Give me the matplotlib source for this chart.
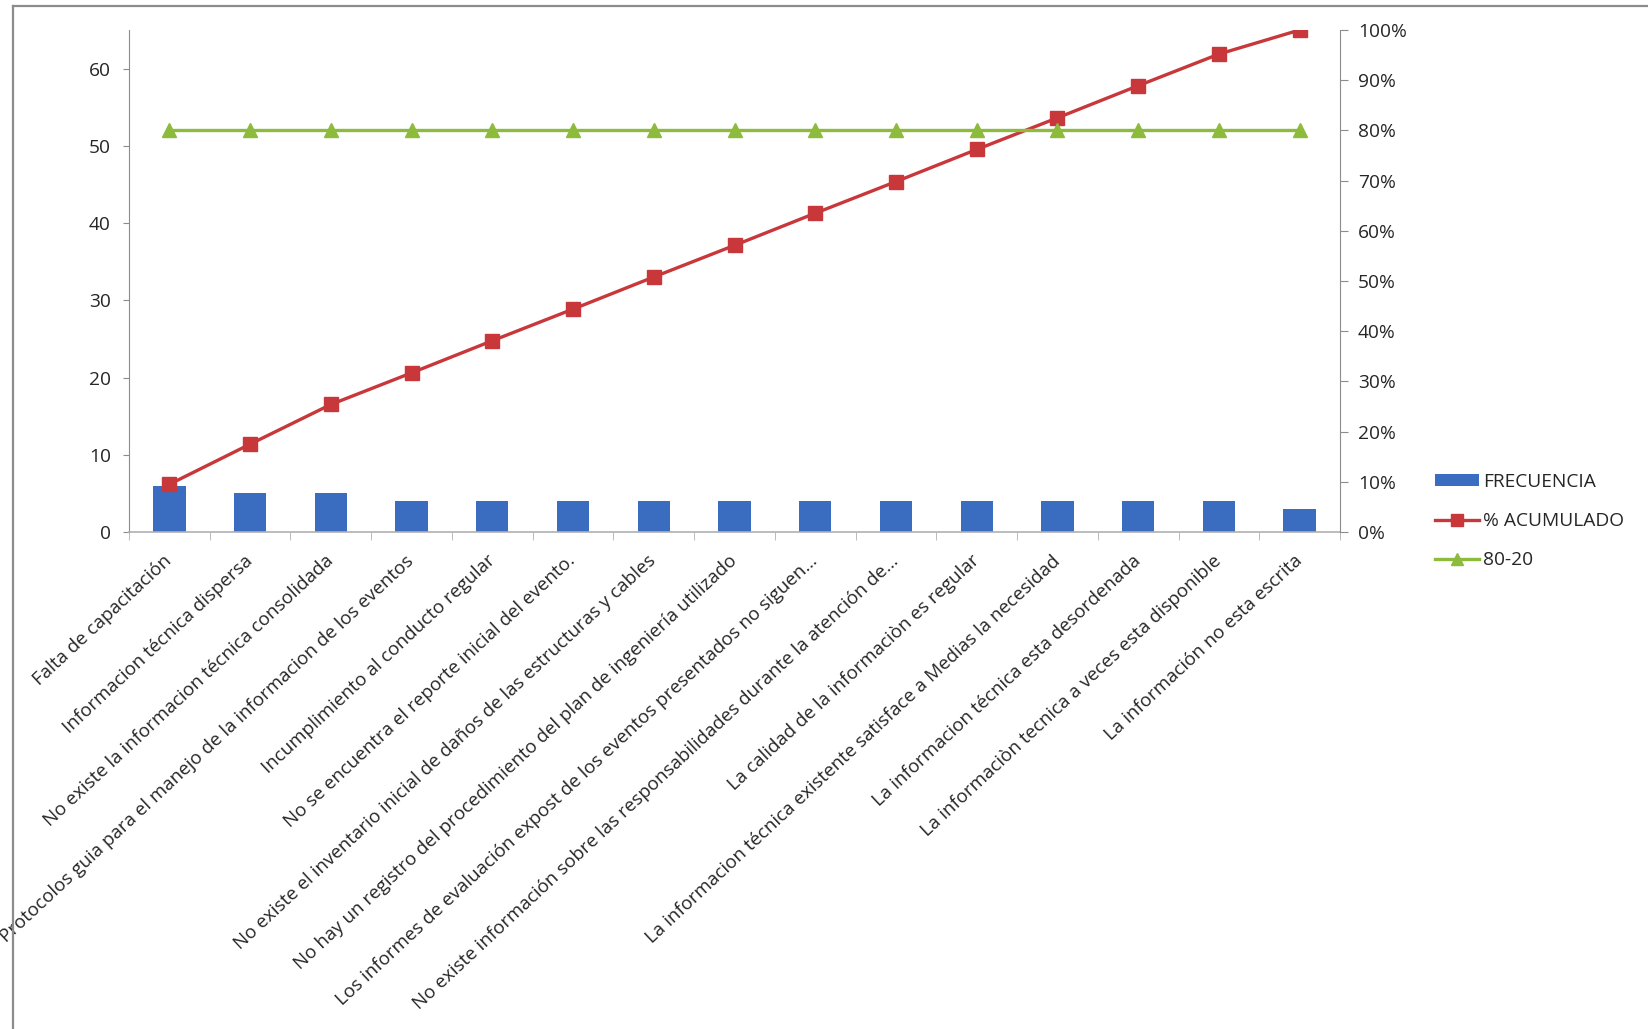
import numpy as np
import matplotlib
matplotlib.use("Agg")
import matplotlib.pyplot as plt
from matplotlib.lines import Line2D
from matplotlib.patches import Patch
from matplotlib.ticker import FixedLocator, PercentFormatter

plt.rcParams["font.family"] = ["Open Sans", "DejaVu Sans"]

causas = [
    "Falta de capacitación",
    "Informacion técnica dispersa",
    "No existe la informacion técnica consolidada",
    "Protocolos guia para el manejo de la informacion de los eventos",
    "Incumplimiento al conducto regular",
    "No se encuentra el reporte inicial del evento.",
    "No existe el inventario inicial de daños de las estructuras y cables",
    "No hay un registro del procedimiento del plan de ingeniería utilizado",
    "Los informes de evaluación expost de los eventos presentados no siguen…",
    "No existe información sobre las responsabilidades durante la atención de…",
    "La calidad de la informaciòn es regular",
    "La informacion técnica existente satisface a Medias la necesidad",
    "La informacion técnica esta desordenada",
    "La informaciòn tecnica a veces esta disponible",
    "La información no esta escrita",
]
frecuencia = [6, 5, 5, 4, 4, 4, 4, 4, 4, 4, 4, 4, 4, 4, 3]
acumulado = [0.095, 0.175, 0.254, 0.317, 0.381, 0.444, 0.508, 0.571,
             0.635, 0.698, 0.762, 0.825, 0.889, 0.952, 1.000]
linea_80_20 = [0.80] * 15

AZUL = "#3A6DBF"
ROJO = "#C8373A"
VERDE = "#8DBB3C"
GRIS = "#8C8C8C"
TEXTO = "#262626"
FS = 13.8
FS_CAT = 13.5

fig = plt.figure(figsize=(16.48, 10.29), dpi=100)
ax = fig.add_axes([129 / 1648, 1 - 532 / 1029, (1340 - 129) / 1648, (532 - 30) / 1029])
x = np.arange(len(causas))

ax.bar(x, frecuencia, width=0.4, color=AZUL, zorder=2)
ax.set_xlim(-0.5, len(causas) - 0.5)
ax.set_ylim(0, 65)
ax.set_yticks(np.arange(0, 61, 10))
ax.tick_params(axis="y", labelsize=FS, colors=GRIS, labelcolor=TEXTO,
               length=4, pad=9)

# etiquetas de categoría giradas, marcas entre categorías
ax.set_xticks(x)
ax.set_xticklabels(causas, rotation=43, ha="right", va="center",
                   rotation_mode="anchor", fontsize=FS_CAT, color=TEXTO)
ax.tick_params(axis="x", which="major", length=0, pad=19)
ax.xaxis.set_minor_locator(FixedLocator(np.arange(-0.5, len(causas), 1.0)))
ax.tick_params(axis="x", which="minor", length=6, color="#B0B0B0")

for s in ["top", "right"]:
    ax.spines[s].set_visible(False)
ax.spines["left"].set_color(GRIS)
ax.spines["bottom"].set_color("#B0B0B0")
ax.spines["bottom"].set_linewidth(1.2)
ax.patch.set_alpha(0)

ax2 = ax.twinx()
ax2.plot(x, acumulado, color=ROJO, lw=2.4, marker="s", ms=10,
         markeredgecolor=ROJO, zorder=3)
ax2.plot(x, linea_80_20, color=VERDE, lw=2.4, marker="^", ms=10,
         markeredgecolor=VERDE, zorder=3)
ax2.set_ylim(0, 1.0)
ax2.set_yticks(np.arange(0, 1.01, 0.1))
ax2.yaxis.set_major_formatter(PercentFormatter(1.0, decimals=0))
ax2.tick_params(axis="y", labelsize=FS, colors=GRIS, labelcolor=TEXTO,
                length=6, pad=7)
for s in ["top", "left", "bottom"]:
    ax2.spines[s].set_visible(False)
ax2.spines["right"].set_color(GRIS)

handles = [
    Patch(facecolor=AZUL, edgecolor="none"),
    Line2D([], [], color=ROJO, lw=2.4, marker="s", ms=9),
    Line2D([], [], color=VERDE, lw=2.4, marker="^", ms=9),
]
fig.legend(handles, ["FRECUENCIA", "% ACUMULADO", "80-20"],
           loc="upper left", bbox_to_anchor=(1435 / 1648, 1 - 473 / 1029),
           frameon=False, fontsize=FS, handlelength=2.3, handleheight=0.6,
           handletextpad=0.2, labelspacing=1.1, labelcolor=TEXTO,
           borderaxespad=0, borderpad=0)

# marco del área del gráfico
fig.add_artist(Line2D([13 / 1648, 1.0], [1 - 6 / 1029, 1 - 6 / 1029],
                      transform=fig.transFigure, color=GRIS, lw=1.6))
fig.add_artist(Line2D([13 / 1648, 13 / 1648], [0, 1 - 6 / 1029],
                      transform=fig.transFigure, color=GRIS, lw=1.6))

fig.savefig("out.png", dpi=100, facecolor="white")
